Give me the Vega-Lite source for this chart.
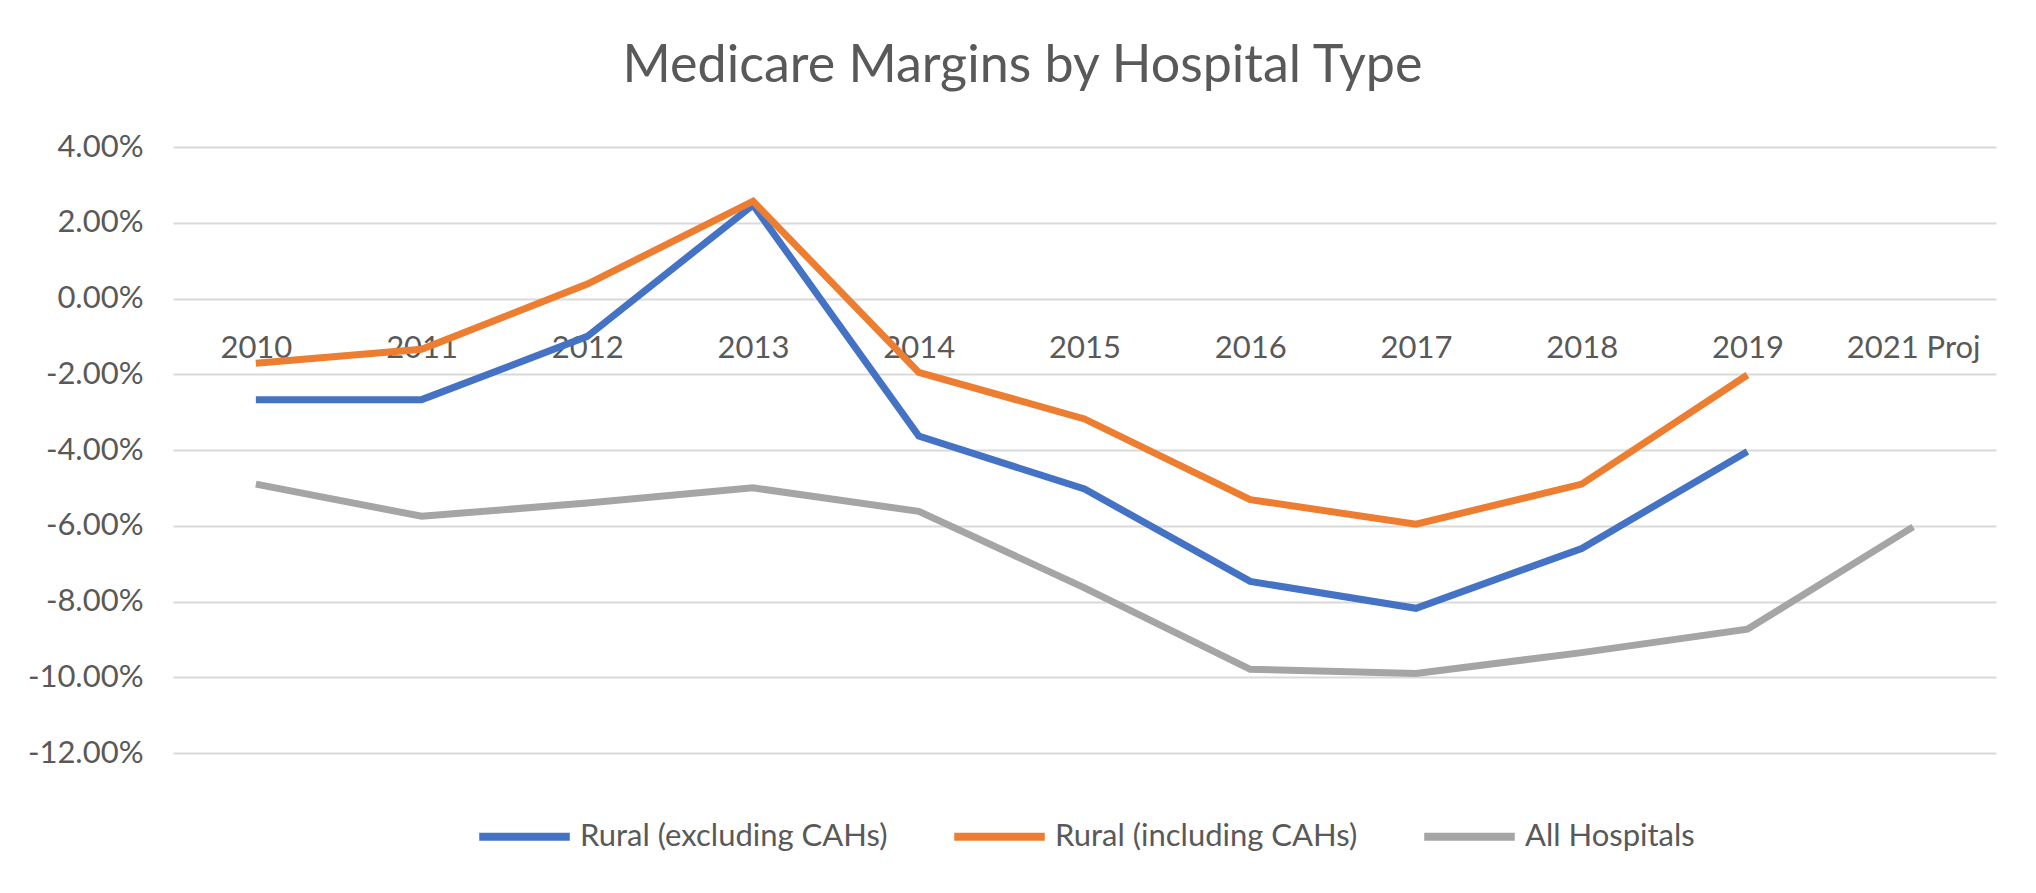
{
  "$schema": "https://vega.github.io/schema/vega-lite/v6.json",
  "autosize": {"type": "none"},
  "width": 1823,
  "height": 606,
  "padding": {"left": 173, "top": 147, "right": 40, "bottom": 140},
  "background": "#ffffff",
  "title": {
    "text": "Medicare Margins by Hospital Type",
    "font": "Lato",
    "fontSize": 52,
    "fontWeight": "normal",
    "color": "#595959",
    "anchor": "middle",
    "dx": -62,
    "offset": 38
  },
  "data": {
    "values": [
      {"year": "2010", "series": "Rural (excluding CAHs)", "value": -0.0267},
      {"year": "2011", "series": "Rural (excluding CAHs)", "value": -0.0267},
      {"year": "2012", "series": "Rural (excluding CAHs)", "value": -0.0100},
      {"year": "2013", "series": "Rural (excluding CAHs)", "value": 0.0247},
      {"year": "2014", "series": "Rural (excluding CAHs)", "value": -0.0363},
      {"year": "2015", "series": "Rural (excluding CAHs)", "value": -0.0503},
      {"year": "2016", "series": "Rural (excluding CAHs)", "value": -0.0747},
      {"year": "2017", "series": "Rural (excluding CAHs)", "value": -0.0818},
      {"year": "2018", "series": "Rural (excluding CAHs)", "value": -0.0660},
      {"year": "2019", "series": "Rural (excluding CAHs)", "value": -0.0404},
      {"year": "2010", "series": "Rural (including CAHs)", "value": -0.0171},
      {"year": "2011", "series": "Rural (including CAHs)", "value": -0.0134},
      {"year": "2012", "series": "Rural (including CAHs)", "value": 0.0038},
      {"year": "2013", "series": "Rural (including CAHs)", "value": 0.0257},
      {"year": "2014", "series": "Rural (including CAHs)", "value": -0.0195},
      {"year": "2015", "series": "Rural (including CAHs)", "value": -0.0318},
      {"year": "2016", "series": "Rural (including CAHs)", "value": -0.0531},
      {"year": "2017", "series": "Rural (including CAHs)", "value": -0.0596},
      {"year": "2018", "series": "Rural (including CAHs)", "value": -0.0490},
      {"year": "2019", "series": "Rural (including CAHs)", "value": -0.0202},
      {"year": "2010", "series": "All Hospitals", "value": -0.0490},
      {"year": "2011", "series": "All Hospitals", "value": -0.0575},
      {"year": "2012", "series": "All Hospitals", "value": -0.0540},
      {"year": "2013", "series": "All Hospitals", "value": -0.0500},
      {"year": "2014", "series": "All Hospitals", "value": -0.0562},
      {"year": "2015", "series": "All Hospitals", "value": -0.0764},
      {"year": "2016", "series": "All Hospitals", "value": -0.0979},
      {"year": "2017", "series": "All Hospitals", "value": -0.0990},
      {"year": "2018", "series": "All Hospitals", "value": -0.0935},
      {"year": "2019", "series": "All Hospitals", "value": -0.0873},
      {"year": "2021 Proj", "series": "All Hospitals", "value": -0.0603}
    ]
  },
  "mark": {"type": "line", "strokeWidth": 7, "strokeJoin": "miter", "strokeCap": "butt"},
  "encoding": {
    "x": {
      "field": "year",
      "type": "ordinal",
      "sort": ["2010", "2011", "2012", "2013", "2014", "2015", "2016", "2017", "2018", "2019", "2021 Proj"],
      "scale": {"domain": ["2010", "2011", "2012", "2013", "2014", "2015", "2016", "2017", "2018", "2019", "2021 Proj"], "padding": 0.5},
      "axis": {
        "title": null,
        "orient": "bottom",
        "offset": -454.5,
        "domain": false,
        "ticks": false,
        "grid": false,
        "labelAngle": 0,
        "labelPadding": 35,
        "labelFont": "Lato",
        "labelFontSize": 31,
        "labelColor": "#595959"
      }
    },
    "y": {
      "field": "value",
      "type": "quantitative",
      "scale": {"domain": [-0.12, 0.04], "nice": false, "zero": false},
      "axis": {
        "title": null,
        "values": [-0.12, -0.10, -0.08, -0.06, -0.04, -0.02, 0, 0.02, 0.04],
        "format": ".2%",
        "labelExpr": "replace(datum.label, '\u2212', '-')",
        "domain": false,
        "ticks": false,
        "grid": true,
        "gridColor": "#D9D9D9",
        "gridWidth": 2,
        "labelPadding": 30,
        "labelFont": "Lato",
        "labelFontSize": 31,
        "labelColor": "#595959"
      }
    },
    "color": {
      "field": "series",
      "type": "nominal",
      "scale": {
        "domain": ["Rural (excluding CAHs)", "Rural (including CAHs)", "All Hospitals"],
        "range": ["#4472C4", "#ED7D31", "#A5A5A5"]
      },
      "legend": {
        "title": null,
        "orient": "bottom",
        "direction": "horizontal",
        "offset": 34,
        "symbolType": "stroke",
        "symbolSize": 8200,
        "symbolStrokeWidth": 8,
        "labelFont": "Lato",
        "labelFontSize": 31,
        "labelColor": "#595959",
        "labelOffset": 6,
        "columnPadding": 50,
        "labelLimit": 600
      }
    }
  },
  "config": {
    "view": {"stroke": null},
    "legend": {"layout": {"bottom": {"anchor": "middle"}}}
  }
}
